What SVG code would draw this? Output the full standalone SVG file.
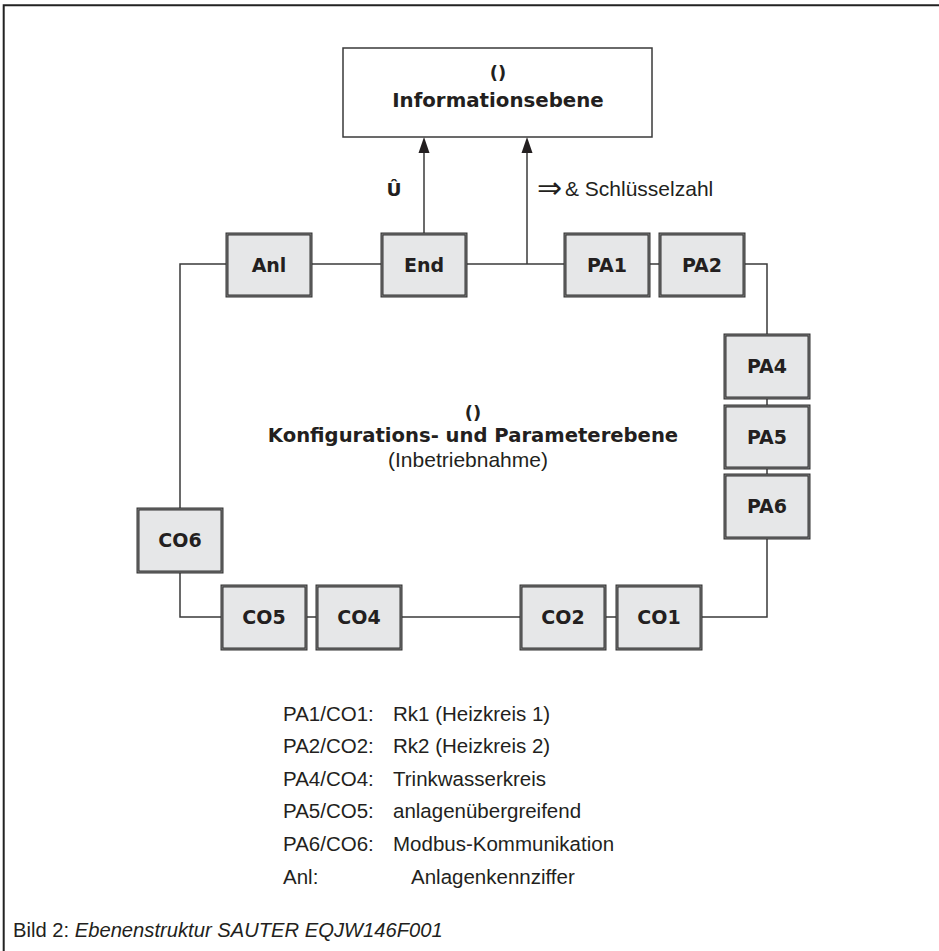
<svg xmlns="http://www.w3.org/2000/svg" width="939" height="951" viewBox="0 0 939 951">
<style>
.frame{fill:none;stroke:#222;stroke-width:2}
.box{fill:#e6e7e8;stroke:#333;stroke-width:3}
.boxin{fill:none;stroke:#8a8a8a;stroke-width:0.8}
.lbl{font-family:"DejaVu Sans",sans-serif;font-weight:bold;font-size:19px;fill:#231f20;text-anchor:middle}
.conn{fill:none;stroke:#3a3a3a;stroke-width:1.5}
.reg{font-family:"Liberation Sans",Arial,sans-serif;fill:#231f20}
.bold{font-family:"DejaVu Sans",sans-serif;font-weight:bold;fill:#231f20;text-anchor:middle}
</style>
<path class="frame" d="M3.7,951 V5.3 H939"/>

<g id="connectors">
<path class="conn" d="M227,264 H180 V509"/>
<path class="conn" d="M180,572 V617 H222"/>
<path class="conn" d="M306,617 H317"/>
<path class="conn" d="M401,617 H521"/>
<path class="conn" d="M605,617 H617"/>
<path class="conn" d="M701,617 H767 V538"/>
<path class="conn" d="M767,475 V468"/>
<path class="conn" d="M767,406 V398"/>
<path class="conn" d="M767,335 V264 H744"/>
<path class="conn" d="M660,264 H649"/>
<path class="conn" d="M565,264 H466"/>
<path class="conn" d="M382,264 H311"/>
<path class="conn" d="M424,234 V153"/>
<path class="conn" d="M527,264 V153"/>
<path d="M418.5,153 L424,137 L429.5,153 Z" fill="#231f20"/>
<path d="M521.5,153 L527,137 L532.5,153 Z" fill="#231f20"/>
</g>

<g id="info">
<rect x="343" y="48" width="309" height="89" fill="#fff" stroke="#3a3a3a" stroke-width="1.5"/>
<text class="bold" x="498" y="79" font-size="18">()</text>
<text class="bold" x="498" y="107" font-size="19.8">Informationsebene</text>
</g>

<g id="label-u"><text class="bold" x="394" y="196" font-size="18.5">Û</text></g>
<g id="label-key">
<text class="reg" x="537" y="198" font-size="30" font-family="DejaVu Sans, sans-serif">⇒</text>
<text class="reg" x="565" y="196" font-size="21">&amp; Schlüsselzahl</text>
</g>

<g id="node-anl"><rect class="box" x="227" y="234" width="84" height="62"/><rect class="boxin" x="227" y="234" width="84" height="62"/><text class="lbl" x="269" y="272">Anl</text></g>
<g id="node-end"><rect class="box" x="382" y="234" width="84" height="62"/><rect class="boxin" x="382" y="234" width="84" height="62"/><text class="lbl" x="424" y="272">End</text></g>
<g id="node-pa1"><rect class="box" x="565" y="234" width="84" height="62"/><rect class="boxin" x="565" y="234" width="84" height="62"/><text class="lbl" x="607" y="272">PA1</text></g>
<g id="node-pa2"><rect class="box" x="660" y="234" width="84" height="62"/><rect class="boxin" x="660" y="234" width="84" height="62"/><text class="lbl" x="702" y="272">PA2</text></g>
<g id="node-pa4"><rect class="box" x="725" y="335" width="84" height="63"/><rect class="boxin" x="725" y="335" width="84" height="63"/><text class="lbl" x="767" y="373">PA4</text></g>
<g id="node-pa5"><rect class="box" x="725" y="406" width="84" height="62"/><rect class="boxin" x="725" y="406" width="84" height="62"/><text class="lbl" x="767" y="444">PA5</text></g>
<g id="node-pa6"><rect class="box" x="725" y="475" width="84" height="63"/><rect class="boxin" x="725" y="475" width="84" height="63"/><text class="lbl" x="767" y="513">PA6</text></g>
<g id="node-co6"><rect class="box" x="138" y="509" width="84" height="63"/><rect class="boxin" x="138" y="509" width="84" height="63"/><text class="lbl" x="180" y="547">CO6</text></g>
<g id="node-co5"><rect class="box" x="222" y="586" width="84" height="63"/><rect class="boxin" x="222" y="586" width="84" height="63"/><text class="lbl" x="264" y="624">CO5</text></g>
<g id="node-co4"><rect class="box" x="317" y="586" width="84" height="63"/><rect class="boxin" x="317" y="586" width="84" height="63"/><text class="lbl" x="359" y="624">CO4</text></g>
<g id="node-co2"><rect class="box" x="521" y="586" width="84" height="63"/><rect class="boxin" x="521" y="586" width="84" height="63"/><text class="lbl" x="563" y="624">CO2</text></g>
<g id="node-co1"><rect class="box" x="617" y="586" width="84" height="63"/><rect class="boxin" x="617" y="586" width="84" height="63"/><text class="lbl" x="659" y="624">CO1</text></g>

<g id="center-label">
<text class="bold" x="473" y="419" font-size="18">()</text>
<text class="bold" x="473" y="442" font-size="19.6">Konfigurations- und Parameterebene</text>
<text class="reg" x="468" y="467" font-size="21" text-anchor="middle">(Inbetriebnahme)</text>
</g>

<g id="legend">
<text class="reg" x="283" y="721" font-size="20.5">PA1/CO1:</text><text class="reg" x="393" y="721" font-size="20.5">Rk1 (Heizkreis 1)</text>
<text class="reg" x="283" y="753" font-size="20.5">PA2/CO2:</text><text class="reg" x="393" y="753" font-size="20.5">Rk2 (Heizkreis 2)</text>
<text class="reg" x="283" y="786" font-size="20.5">PA4/CO4:</text><text class="reg" x="393" y="786" font-size="20.5">Trinkwasserkreis</text>
<text class="reg" x="283" y="818" font-size="20.5">PA5/CO5:</text><text class="reg" x="393" y="818" font-size="20.5">anlagenübergreifend</text>
<text class="reg" x="283" y="851" font-size="20.5">PA6/CO6:</text><text class="reg" x="393" y="851" font-size="20.5">Modbus-Kommunikation</text>
<text class="reg" x="283" y="884" font-size="20.5">Anl:</text><text class="reg" x="411" y="884" font-size="20.5">Anlagenkennziffer</text>
</g>

<g id="caption">
<text class="reg" x="13" y="937" font-size="20.2">Bild 2: <tspan font-style="italic">Ebenenstruktur SAUTER EQJW146F001</tspan></text>
</g>
</svg>
